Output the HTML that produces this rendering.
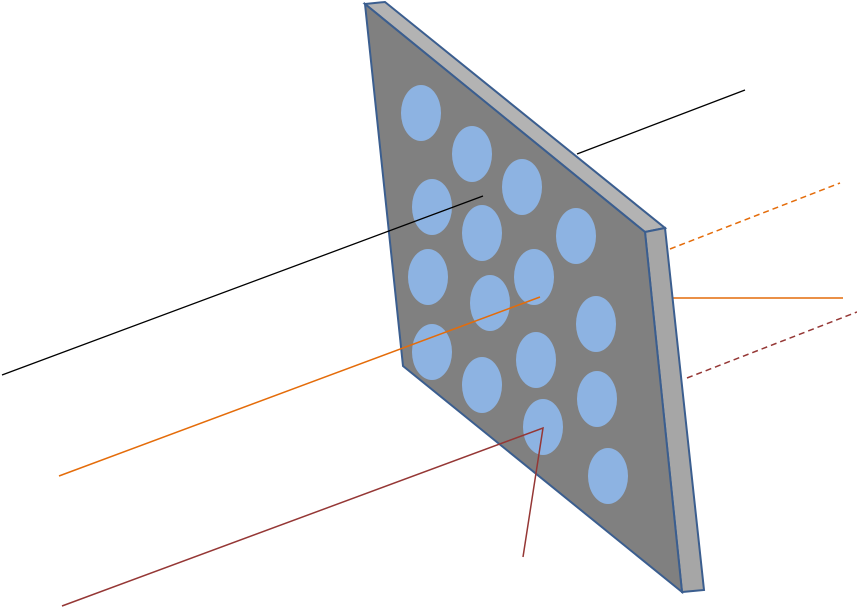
<!DOCTYPE html>
<html><head><meta charset="utf-8"><style>html,body{margin:0;padding:0;background:#fff}svg{display:block}</style></head>
<body>
<svg width="857" height="608" viewBox="0 0 857 608" xmlns="http://www.w3.org/2000/svg">
<line x1="577" y1="154" x2="745" y2="90" stroke="#000" stroke-width="1.3"/>
<line x1="670" y1="249" x2="840" y2="183" stroke="#e46c0a" stroke-width="1.5" stroke-dasharray="6,4"/>
<line x1="672" y1="298" x2="843" y2="298" stroke="#e46c0a" stroke-width="1.5"/>
<line x1="687" y1="378" x2="857" y2="312" stroke="#953735" stroke-width="1.5" stroke-dasharray="6,4"/>
<polygon points="365,4 385,2 665,228 645,232" fill="#b3b3b3" stroke="#3b5e8f" stroke-width="2"/>
<polygon points="645,232 665,228 704,590 682,592" fill="#a6a6a6" stroke="#3b5e8f" stroke-width="2"/>
<polygon points="365,4 645,232 682,592 403,366" fill="#808080" stroke="#3b5e8f" stroke-width="2"/>
<g fill="#8db3e2">
<ellipse cx="421" cy="113" rx="20" ry="28"/><ellipse cx="472" cy="154" rx="20" ry="28"/><ellipse cx="522" cy="187" rx="20" ry="28"/>
<ellipse cx="432" cy="207" rx="20" ry="28"/><ellipse cx="482" cy="233" rx="20" ry="28"/><ellipse cx="576" cy="236" rx="20" ry="28"/>
<ellipse cx="428" cy="277" rx="20" ry="28"/><ellipse cx="534" cy="277" rx="20" ry="28"/><ellipse cx="490" cy="303" rx="20" ry="28"/>
<ellipse cx="596" cy="324" rx="20" ry="28"/><ellipse cx="432" cy="352" rx="20" ry="28"/><ellipse cx="536" cy="360" rx="20" ry="28"/>
<ellipse cx="482" cy="385" rx="20" ry="28"/><ellipse cx="597" cy="399" rx="20" ry="28"/><ellipse cx="543" cy="427" rx="20" ry="28"/>
<ellipse cx="608" cy="476" rx="20" ry="28"/>
</g>
<line x1="2" y1="375" x2="483" y2="196" stroke="#000" stroke-width="1.3"/>
<line x1="59" y1="476" x2="540" y2="297" stroke="#e46c0a" stroke-width="1.5"/>
<polyline points="62,606 543,428 523,557" fill="none" stroke="#953735" stroke-width="1.5"/>
</svg>
</body></html>
